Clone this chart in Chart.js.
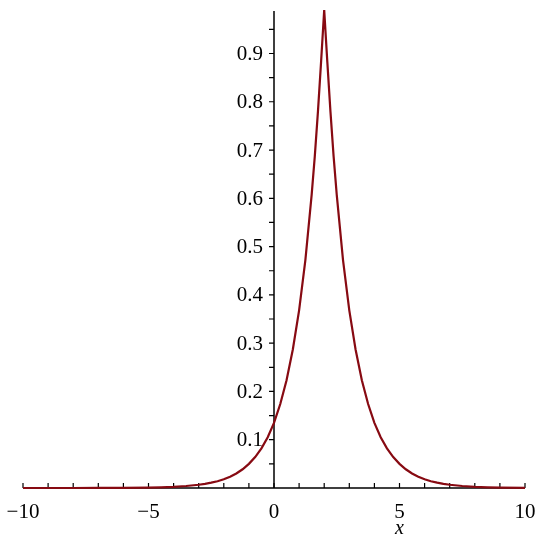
<!DOCTYPE html>
<html>
<head>
<meta charset="utf-8">
<script src="https://cdn.jsdelivr.net/npm/chart.js@4"></script>
<style>
  body { margin: 0; background: #fff; }
</style>
</head>
<body>
<canvas id="plot" width="543" height="550"></canvas>
<script>
// values
const xs = [-10, -9, -8, -7, -6, -5, -4.5, -4, -3.5, -3, -2.75, -2.5, -2.25, -2, -1.75, -1.5, -1.25, -1, -0.75, -0.5, -0.25,
  0, 0.25, 0.5, 0.75, 1, 1.25, 1.5, 1.625, 1.75, 1.875, 2,
  2.125, 2.25, 2.375, 2.5, 2.75, 3, 3.25, 3.5, 3.75, 4, 4.25, 4.5, 4.75, 5, 5.25, 5.5, 5.75, 6, 6.25, 6.5, 6.75, 7,
  7.5, 8, 8.5, 9, 10];
const ys = [0.0000, 0.0000, 0.0000, 0.0001, 0.0003, 0.0009, 0.0015, 0.0025, 0.0041, 0.0067, 0.0087, 0.011, 0.014, 0.018,
  0.0235, 0.030, 0.0388, 0.050, 0.064, 0.082, 0.105,
  0.135, 0.174, 0.223, 0.287, 0.368, 0.472, 0.607, 0.687, 0.779, 0.882, 0.99,
  0.882, 0.779, 0.687, 0.607, 0.472, 0.368, 0.287, 0.223, 0.174, 0.135, 0.105, 0.082, 0.064, 0.050, 0.0388, 0.030,
  0.0235, 0.018, 0.014, 0.011, 0.0087, 0.0067,
  0.0041, 0.0025, 0.0015, 0.0009, 0.0003];
const xLabelTicks = [-10, -5, 0, 5, 10];
const yLabelTicks = [0.1, 0.2, 0.3, 0.4, 0.5, 0.6, 0.7, 0.8, 0.9];
const axisName = 'x';

const serif = '"Liberation Serif", "DejaVu Serif", serif';
const near = (a, b) => Math.abs(a - b) < 1e-6;

const mapleAxes = {
  id: 'mapleAxes',
  beforeDatasetsDraw(chart) {
    const { ctx, scales: { x, y } } = chart;
    const x0 = x.getPixelForValue(0);
    const y0 = y.getPixelForValue(0);
    ctx.save();
    ctx.strokeStyle = '#000';
    ctx.lineWidth = 1.5;
    ctx.beginPath();
    ctx.moveTo(x.left, y0);
    ctx.lineTo(x.right, y0);
    ctx.moveTo(x0, y.bottom);
    ctx.lineTo(x0, y.top);
    ctx.stroke();
    ctx.lineWidth = 1.2;
    ctx.beginPath();
    x.ticks.forEach((t) => {
      if (!near(t.value, Math.round(t.value))) return;
      const px = x.getPixelForValue(t.value);
      ctx.moveTo(px, y0);
      ctx.lineTo(px, y0 - 5);
    });
    y.ticks.forEach((t) => {
      if (t.value <= 0 || !near(t.value * 20, Math.round(t.value * 20))) return;
      const py = y.getPixelForValue(t.value);
      ctx.moveTo(x0, py);
      ctx.lineTo(x0 - 5, py);
    });
    ctx.stroke();

    // tick labels
    ctx.fillStyle = '#000';
    ctx.font = '21px ' + serif;
    ctx.textBaseline = 'middle';
    ctx.textAlign = 'center';
    xLabelTicks.forEach((v) => {
      const txt = v < 0 ? '\u2212' + Math.abs(v) : String(v);
      ctx.fillText(txt, x.getPixelForValue(v), y0 + 24);
    });
    ctx.textAlign = 'right';
    yLabelTicks.forEach((v) => {
      ctx.fillText(v.toFixed(1), x0 - 11, y.getPixelForValue(v) + 1);
    });
    ctx.restore();
  },
  afterDraw(chart) {
    const { ctx, scales: { x } } = chart;
    ctx.save();
    ctx.fillStyle = '#000';
    ctx.font = 'italic 20px ' + serif;
    ctx.textAlign = 'center';
    ctx.textBaseline = 'middle';
    ctx.fillText(axisName, x.getPixelForValue(5), 529);
    ctx.restore();
  },
};

new Chart(document.getElementById('plot'), {
  type: 'line',
  data: {
    datasets: [{
      data: xs.map((v, i) => ({ x: v, y: ys[i] })),
      borderColor: '#870a12',
      borderWidth: 2.2,
      pointRadius: 0,
      tension: 0,
      fill: false,
      clip: false,
    }],
  },
  options: {
    responsive: false,
    animation: false,
    events: [],
    layout: { padding: { left: 23, right: 18, top: 11, bottom: 62 } },
    plugins: { legend: { display: false }, tooltip: { enabled: false } },
    scales: {
      x: {
        type: 'linear',
        position: { y: 0 },
        min: -10,
        max: 10,
        grid: { display: false, drawTicks: false },
        border: { display: false },
        ticks: { display: false, stepSize: 1, autoSkip: false },
      },
      y: {
        type: 'linear',
        position: { x: 0 },
        min: 0,
        max: 0.988,
        grid: { display: false, drawTicks: false },
        border: { display: false },
        ticks: { display: false, stepSize: 0.05, autoSkip: false },
      },
    },
  },
  plugins: [mapleAxes],
});
</script>
</body>
</html>
